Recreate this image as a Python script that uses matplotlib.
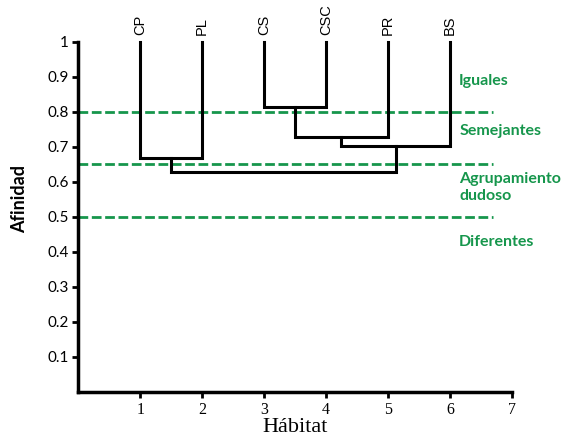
import matplotlib.pyplot as plt

# leaves and linkage (positions on x, affinity on y)
leaves = ["CP", "PL", "CS", "CSC", "PR", "BS"]
leaf_x = [1, 2, 3, 4, 5, 6]
# each merge: (left x, left y, right x, right y, join height)
merges = [
    (3, 1.0, 4, 1.0, 0.813),
    (3.5, 0.813, 5, 1.0, 0.729),
    (4.25, 0.729, 6, 1.0, 0.703),
    (1, 1.0, 2, 1.0, 0.667),
    (1.5, 0.667, 5.125, 0.703, 0.627),
]
thresholds = [0.8, 0.65, 0.5]
group_labels = ["Iguales", "Semejantes", "Agrupamiento\ndudoso", "Diferentes"]
group_y = [0.889, 0.746, 0.583, 0.429]

green = "#16964c"

fig = plt.figure(figsize=(5.63, 4.38), dpi=100)
ax = fig.add_axes([0.139, 0.105, 0.770, 0.800])

for x1, y1, x2, y2, h in merges:
    ax.plot([x1, x1, x2, x2], [y1, h, h, y2], color="black", lw=2.2,
            solid_joinstyle="miter", clip_on=False, zorder=3)

for t in thresholds:
    ax.plot([0, 6.7], [t, t], color=green, lw=2, ls=(0, (3.5, 1.3)), zorder=2)

for name, x in zip(leaves, leaf_x):
    ax.text(x, 1.02, name, rotation=90, ha="center", va="bottom",
            fontsize=10.5, fontfamily="Liberation Sans", clip_on=False)

for lab, y in zip(group_labels, group_y):
    ax.text(6.15, y, lab, color=green, fontsize=11.5, fontweight="bold",
            fontfamily="Lato", ha="left", va="center", linespacing=1.25)

ax.set_xlim(0, 7)
ax.set_ylim(0, 1)
ax.set_xticks(range(1, 8))
ax.set_xticklabels([str(i) for i in range(1, 8)], fontfamily="Liberation Serif", fontsize=11.5)
yt = [i / 10 for i in range(1, 11)]
ax.set_yticks(yt)
ax.set_yticklabels(["0.1", "0.2", "0.3", "0.4", "0.5", "0.6", "0.7", "0.8", "0.9", "1"],
                   fontfamily="Lato", fontsize=11)
ax.tick_params(direction="out", length=4, width=2, pad=3)
for s in ["top", "right"]:
    ax.spines[s].set_visible(False)
for s in ["left", "bottom"]:
    ax.spines[s].set_linewidth(2.5)

ax.set_xlabel("Hábitat", fontfamily="Liberation Serif", fontsize=16, labelpad=0)
ax.set_ylabel("Afinidad", fontfamily="Lato", fontweight="bold", fontsize=13)
ax.yaxis.set_label_coords(-0.115, 0.55)

fig.savefig("out.png", dpi=100)
